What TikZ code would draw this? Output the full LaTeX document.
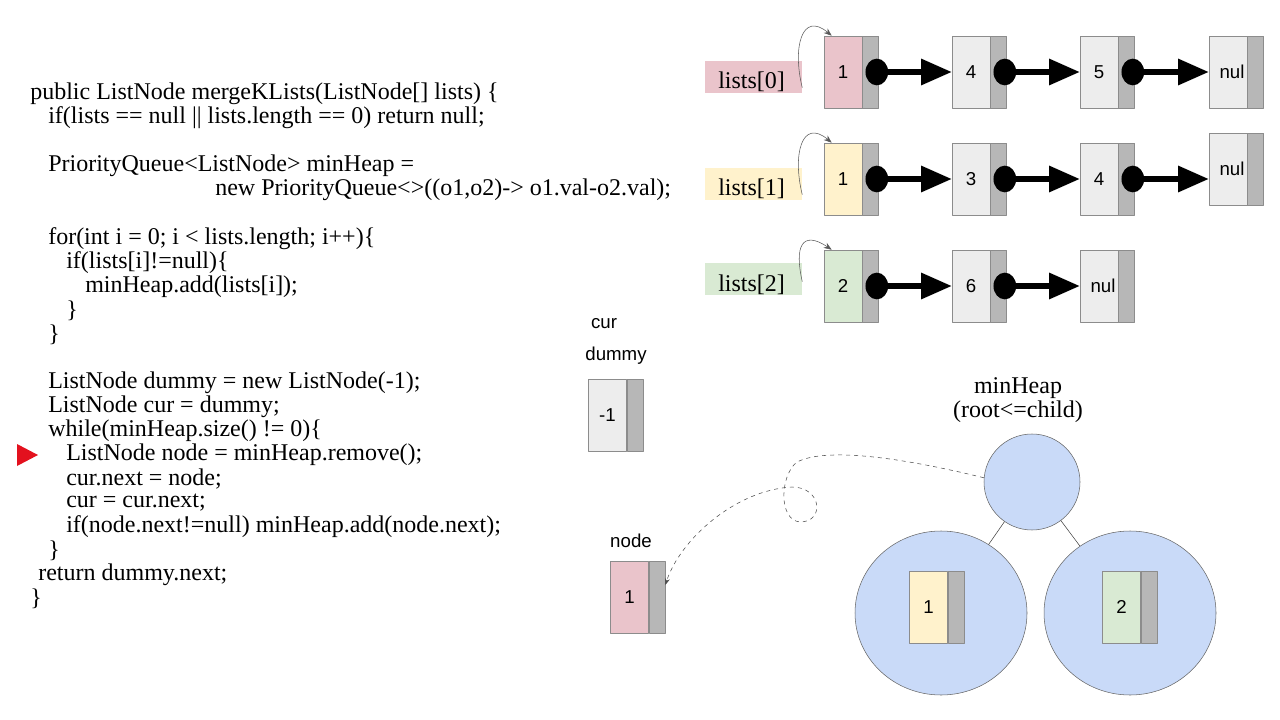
\documentclass[tikz,border=0pt]{standalone}
\usepackage{fontspec}
\setmainfont{Liberation Serif}
\setsansfont{Liberation Sans}
\usetikzlibrary{positioning,arrows.meta,shapes.geometric}
\definecolor{pinkv}{HTML}{EAC4CB}
\definecolor{yellowv}{HTML}{FFF2CC}
\definecolor{greenv}{HTML}{D9EAD3}
\definecolor{grayv}{HTML}{EDEDED}
\definecolor{ptrgray}{HTML}{B7B7B7}
\definecolor{heapblue}{HTML}{C9DAF8}
\definecolor{marker}{HTML}{E3111E}
\begin{document}
\begin{tikzpicture}[x=0.75pt, y=-0.75pt, line join=round,
  code/.style={anchor=west, inner sep=0pt, font=\fontsize{18}{18}\selectfont},
  val/.style={draw=black!45, minimum width=28.5pt, minimum height=54pt, inner sep=0pt, font=\sffamily\fontsize{14}{15}\selectfont},
  ptr/.style={draw=black!45, fill=ptrgray, minimum width=12pt, minimum height=54pt, inner sep=0pt, right=0pt of #1},
  dot/.style={ellipse, fill=black, minimum width=17pt, minimum height=20pt, inner sep=0pt},
  link/.style={line width=4pt, -{Triangle[length=23pt,width=19pt]}},
  curl/.style={draw=black!65, thin, -{Stealth[length=6pt]}},
  lab/.style={minimum width=72.75pt, minimum height=24pt, inner sep=0pt},
  labtext/.style={anchor=base west, inner sep=0pt, font=\fontsize{18}{18}\selectfont},
  heap/.style={draw=black!60, fill=heapblue},
  tag/.style={inner sep=0pt, font=\sffamily\fontsize{14}{16}\selectfont}]

  \useasboundingbox (0,0) rectangle (1280,720);

  \node[code] (c1) at (30,94) {public ListNode mergeKLists(ListNode[] lists) \{};
  \node[code] (c2) at (48,118) {if(lists == null || lists.length == 0) return null;};
  \node[code] (c3) at (48,166) {PriorityQueue<ListNode> minHeap =};
  \node[code] (c4) at (215,190) {new PriorityQueue<>((o1,o2)-> o1.val-o2.val);};
  \node[code] (c5) at (48,239) {for(int i = 0; i < lists.length; i++)\{};
  \node[code] (c6) at (66,263) {if(lists[i]!=null)\{};
  \node[code] (c7) at (85,287) {minHeap.add(lists[i]);};
  \node[code] (c8) at (66,311) {\}};
  \node[code] (c9) at (48,335) {\}};
  \node[code] (c10) at (48,383) {ListNode dummy = new ListNode(-1);};
  \node[code] (c11) at (48,407) {ListNode cur = dummy;};
  \node[code] (c12) at (48,431) {while(minHeap.size() != 0)\{};
  \node[code] (c13) at (66,455) {ListNode node = minHeap.remove();};
  \node[code] (c14) at (66,479) {cur.next = node;};
  \node[code] (c15) at (66,503) {cur = cur.next;};
  \node[code] (c16) at (66,527) {if(node.next!=null) minHeap.add(node.next);};
  \node[code] (c17) at (48,551) {\}};
  \node[code] (c18) at (38,575) {return dummy.next;};
  \node[code] (c19) at (30,599) {\}};

  \fill[marker] (17,444) -- (38,455) -- (17,466) -- cycle;

  % lists[0]
  \node[lab, fill=pinkv] (l0) at (753.5,77) {};
  \node[labtext] (l0t) at (718,89) {lists[0]};
  \node[val, fill=pinkv] (a1) at (843,72) {1};
  \node[ptr=a1] (a1p) {};
  \node[val, fill=grayv] (a2) at (971,72) {4};
  \node[ptr=a2] (a2p) {};
  \node[val, fill=grayv] (a3) at (1099,72) {5};
  \node[ptr=a3] (a3p) {};
  \node[val, fill=grayv] (a4) at (1228,72) {\hspace{6pt}nul};
  \node[ptr=a4] (a4p) {};
  \node[dot] (a1d) at ([xshift=-1.5pt]a1p.east) {};
  \node[dot] (a2d) at ([xshift=-1.5pt]a2p.east) {};
  \node[dot] (a3d) at ([xshift=-1.5pt]a3p.east) {};
  \draw[link] (a1d) -- (a2.west);
  \draw[link] (a2d) -- (a3.west);
  \draw[link] (a3d) -- (a4.west);
  \draw[curl] ([yshift=-8pt]l0.east) .. controls +(-10,-40) and +(-30,-25) .. ([xshift=6pt]a1.north west);

  % lists[1]
  \node[lab, fill=yellowv] (l1) at (753.5,184) {};
  \node[labtext] (l1t) at (718,196) {lists[1]};
  \node[val, fill=yellowv] (b1) at (843,179) {1};
  \node[ptr=b1] (b1p) {};
  \node[val, fill=grayv] (b2) at (971,179) {3};
  \node[ptr=b2] (b2p) {};
  \node[val, fill=grayv] (b3) at (1099,179) {4};
  \node[ptr=b3] (b3p) {};
  \node[val, fill=grayv] (b4) at (1228,169) {\hspace{6pt}nul};
  \node[ptr=b4] (b4p) {};
  \node[dot] (b1d) at ([xshift=-1.5pt]b1p.east) {};
  \node[dot] (b2d) at ([xshift=-1.5pt]b2p.east) {};
  \node[dot] (b3d) at ([xshift=-1.5pt]b3p.east) {};
  \draw[link] (b1d) -- (b2.west);
  \draw[link] (b2d) -- (b3.west);
  \draw[link] (b3d) -- ([yshift=-7.5pt]b4.west);
  \draw[curl] ([yshift=-8pt]l1.east) .. controls +(-10,-40) and +(-30,-25) .. ([xshift=6pt]b1.north west);

  % lists[2]
  \node[lab, fill=greenv] (l2) at (753.5,279) {};
  \node[labtext] (l2t) at (718,291) {lists[2]};
  \node[val, fill=greenv] (g1) at (843,286) {2};
  \node[ptr=g1] (g1p) {};
  \node[val, fill=grayv] (g2) at (971,286) {6};
  \node[ptr=g2] (g2p) {};
  \node[val, fill=grayv] (g3) at (1099,286) {\hspace{6pt}nul};
  \node[ptr=g3] (g3p) {};
  \node[dot] (g1d) at ([xshift=-1.5pt]g1p.east) {};
  \node[dot] (g2d) at ([xshift=-1.5pt]g2p.east) {};
  \draw[link] (g1d) -- (g2.west);
  \draw[link] (g2d) -- (g3.west);
  \draw[curl] ([yshift=-2pt]l2.east) .. controls +(-8,-35) and +(-30,-20) .. ([xshift=6pt]g1.north west);

  % cur / dummy / node
  \node[tag] (cur) at (604,324) {cur};
  \node[tag] (dum) at (616,356) {dummy};
  \node[val, fill=grayv] (d1) at (607.5,415) {-1};
  \node[ptr=d1] (d1p) {};
  \node[tag] (nd) at (631,541) {node};
  \node[val, fill=pinkv] (n1) at (629.5,597) {1};
  \node[ptr=n1] (n1p) {};

  % heap
  \node[align=center, font=\fontsize{18}{18}\selectfont] (title) at (1018,400) {minHeap\\(root<=child)};
  \node[heap, circle, minimum size=72pt] (root) at (1032,482) {};
  \node[heap, ellipse, minimum width=129pt, minimum height=123pt] (lc) at (941,613) {};
  \node[heap, ellipse, minimum width=129pt, minimum height=123pt] (rc) at (1130,613) {};
  \draw[black!75] (root) -- (lc);
  \draw[black!75] (root) -- (rc);
  \node[val, fill=yellowv] (h1) at (928.5,607) {1};
  \node[ptr=h1] (h1p) {};
  \node[val, fill=greenv] (h2) at (1121.5,607) {2};
  \node[ptr=h2] (h2p) {};

  \draw[black!70, dashed, -{Stealth[length=5pt]}] (root.175) .. controls (920,462) and (830,445) .. (797,462)
    .. controls (780,475) and (778,520) .. (800,522) .. controls (825,522) and (822,487) .. (792,487)
    .. controls (735,490) and (680,540) .. ([yshift=9pt]n1p.east);

\end{tikzpicture}
\end{document}
